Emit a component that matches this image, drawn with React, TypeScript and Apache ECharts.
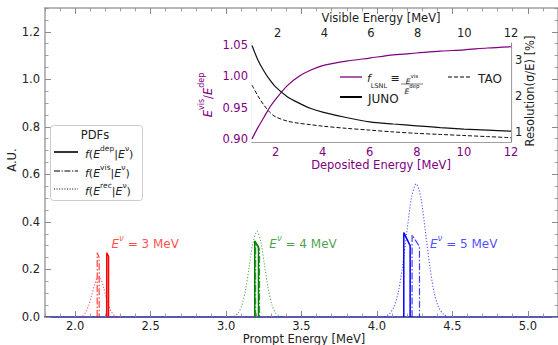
import React, { useEffect, useRef } from "react";
import * as echarts from "echarts";

// ---------- data ----------
const mainXTicks = [2.0, 2.5, 3.0, 3.5, 4.0, 4.5, 5.0];
const mainYTicks = [0, 0.2, 0.4, 0.6, 0.8, 1.0, 1.2];
const insetDepTicks = [2, 4, 6, 8, 10, 12];
const insetVisTicks = [2, 4, 6, 8, 10, 12];
const insetRatioTicks = [0.9, 0.95, 1.0, 1.05];
const insetResTicks = [1, 2, 3];

// E_nu = 3 MeV
const red_dep = [[2.209, 0], [2.209, 0.27], [2.221, 0.255], [2.221, 0]];
const red_vis = [[2.146, 0], [2.146, 0.27], [2.159, 0.25], [2.159, 0]];
const red_rec = [
  [2.03, 0], [2.05, 0.006], [2.07, 0.02], [2.09, 0.05], [2.11, 0.092], [2.13, 0.138],
  [2.15, 0.168], [2.17, 0.16], [2.19, 0.12], [2.21, 0.072], [2.23, 0.034], [2.25, 0.012],
  [2.27, 0.003], [2.29, 0],
];
// E_nu = 4 MeV
const green_dep = [[3.19, 0], [3.19, 0.32], [3.215, 0.295], [3.215, 0]];
const green_vis = [[3.196, 0], [3.196, 0.31], [3.222, 0.285], [3.222, 0]];
const green_rec = [
  [3.03, 0], [3.055, 0.004], [3.08, 0.016], [3.105, 0.05], [3.13, 0.117], [3.155, 0.218],
  [3.18, 0.318], [3.205, 0.36], [3.23, 0.318], [3.255, 0.218], [3.28, 0.117], [3.305, 0.049],
  [3.33, 0.016], [3.355, 0.004], [3.38, 0],
];
// E_nu = 5 MeV
const blue_dep = [[4.178, 0], [4.178, 0.355], [4.22, 0.3], [4.22, 0]];
const blue_vis = [[4.233, 0], [4.233, 0.345], [4.282, 0.296], [4.282, 0]];
const blue_rec = [
  [4.05, 0], [4.08, 0.012], [4.11, 0.039], [4.14, 0.1], [4.17, 0.215], [4.2, 0.366],
  [4.23, 0.505], [4.26, 0.56], [4.29, 0.505], [4.32, 0.366], [4.35, 0.215], [4.38, 0.1],
  [4.41, 0.039], [4.44, 0.012], [4.47, 0],
];

const annotX = [2.464, 3.51, 4.575];
const annotY = [0.316, 0.316, 0.316];
const annotNu = ["3", "4", "5"];

// inset
const depE = [1, 1.25, 1.5, 1.75, 2, 2.5, 3, 3.5, 4, 5, 6, 7, 8, 9, 10, 11, 12];
const lsnl = [0.9, 0.918, 0.934, 0.95, 0.963, 0.985, 1.0, 1.01, 1.017, 1.024, 1.029, 1.034, 1.037, 1.04, 1.042, 1.045, 1.047];
const junoRes = [3.4, 3.0, 2.7, 2.45, 2.25, 1.98, 1.8, 1.65, 1.55, 1.4, 1.28, 1.22, 1.17, 1.12, 1.08, 1.05, 1.02];
const taoRes = [2.3, 2.0, 1.75, 1.55, 1.42, 1.3, 1.24, 1.2, 1.16, 1.1, 1.05, 1.0, 0.96, 0.93, 0.9, 0.87, 0.84];

// ---------- helpers ----------
const FONT = "DejaVu Sans";
const SPINE = "#a0a0a0";
const TICK = "#8a8a8a";
const PURPLE = "#800080";
const FS = 11.5;

function steps(a: number, b: number, s: number) {
  const out: number[] = [];
  const n = Math.round((b - a) / s);
  for (let i = 0; i <= n; i++) out.push(Math.round((a + i * s) * 1000) / 1000);
  return out;
}

function pairs(xs: number[], ys: number[]) {
  return xs.map((x, i) => [x, ys[i]]);
}

function axisBase(extra: any) {
  return {
    type: "value",
    splitLine: { show: false },
    axisLine: { show: false, onZero: false },
    ...extra,
  };
}

function majorAxis(gridIndex: number, position: string, min: number, max: number, ticks: number[], opts: any) {
  return axisBase({
    gridIndex, position, min, max,
    axisLine: { show: true, onZero: false, lineStyle: { color: opts.lineColor || SPINE, width: opts.lineWidth || 1.5 } },
    axisTick: { show: true, inside: true, length: opts.tickLen || 6, customValues: ticks, lineStyle: { color: TICK, width: 1 } },
    axisLabel: opts.labels
      ? {
          show: true, customValues: ticks, margin: opts.margin ?? 5,
          color: opts.labelColor || "#222", fontFamily: FONT, fontSize: FS,
          formatter: (v: number) => v.toFixed(opts.digits || 0),
        }
      : { show: false },
  });
}

function minorAxis(gridIndex: number, position: string, min: number, max: number, ticks: number[], len: number) {
  return axisBase({
    gridIndex, position, min, max,
    axisTick: { show: true, inside: true, length: len, customValues: ticks, lineStyle: { color: TICK, width: 0.8 } },
    axisLabel: { show: false },
  });
}

const tokN = (size: number, color: string) => ({ fontFamily: FONT, fontSize: size, fill: color, lineHeight: size + 5, verticalAlign: "bottom" });
const tokI = (size: number, color: string) => ({ fontFamily: FONT, fontSize: size, fill: color, fontStyle: "italic", lineHeight: size + 5, verticalAlign: "bottom" });
const tokS = (size: number, color: string) => ({ fontFamily: FONT, fontSize: size, fill: color, lineHeight: size, verticalAlign: "top" });

export default function App() {
  const ref = useRef<HTMLDivElement>(null);
  useEffect(() => {
    if (!ref.current) return;
    const chart = echarts.init(ref.current, null, { renderer: "svg" });

    const mainLine = (data: number[][], color: string, kind: string) => {
      const ls: any = { color, width: 1.5, opacity: 1, type: "solid" };
      if (kind === "vis") { ls.width = 1.2; ls.opacity = 0.75; ls.type = [7, 2, 1.5, 2]; }
      if (kind === "rec") { ls.width = 1.1; ls.opacity = 0.65; ls.type = [1.2, 1.8]; }
      return {
        type: "line", xAxisIndex: 0, yAxisIndex: 0, data, symbol: "none",
        smooth: kind === "rec" ? 0.3 : false, lineStyle: ls, z: 3, silent: true,
      };
    };

    const annotColors = ["#ff2020", "#1a8a1a", "#2020ff"];
    const annotSeries = annotX.map((x, i) => ({
      type: "scatter", xAxisIndex: 0, yAxisIndex: 0, symbolSize: 0,
      data: [[x, annotY[i]]], silent: true,
      label: {
        show: true, position: "inside",
        formatter: `{i|E}{s|ν}{n| = ${annotNu[i]} MeV}`,
        rich: {
          i: { fontFamily: FONT, fontSize: 12, color: annotColors[i], fontStyle: "italic", lineHeight: 17, verticalAlign: "bottom" },
          s: { fontFamily: FONT, fontSize: 8.5, color: annotColors[i], fontStyle: "italic", lineHeight: 9, verticalAlign: "top" },
          n: { fontFamily: FONT, fontSize: 12, color: annotColors[i], lineHeight: 17, verticalAlign: "bottom" },
        },
      },
    }));

    const legendRich = {
      n: tokN(11, "#222"), i: tokI(11, "#222"), s: tokS(7.5, "#222"),
    };
    const legendRows = [
      { y: 152, dash: null as any, label: "{i|f}{n|(}{i|E}{s|dep}{n||}{i|E}{s|ν}{n|)}" },
      { y: 171, dash: [6, 1.6, 1.2, 1.6], label: "{i|f}{n|(}{i|E}{s|vis}{n||}{i|E}{s|ν}{n|)}" },
      { y: 189, dash: [1, 1.6], label: "{i|f}{n|(}{i|E}{s|rec}{n||}{i|E}{s|ν}{n|)}" },
    ];

    const graphics: any[] = [
      // main legend
      { type: "rect", z: 100, shape: { x: 50.5, y: 125.5, width: 92, height: 75, r: 3 }, style: { fill: "rgba(255,255,255,0.85)", stroke: "#cccccc", lineWidth: 1 } },
      { type: "text", z: 101, x: 95, y: 135, style: { text: "PDFs", fontFamily: FONT, fontSize: FS, fill: "#222", align: "center", verticalAlign: "middle" } },
      ...legendRows.flatMap((r) => [
        { type: "line", z: 101, shape: { x1: 54, y1: r.y, x2: 78, y2: r.y }, style: { stroke: "#000", lineWidth: r.dash ? 1.2 : 1.6, lineDash: r.dash || undefined } },
        { type: "text", z: 101, x: 85, y: r.y, style: { text: r.label, rich: legendRich, align: "left", verticalAlign: "middle" } },
      ]),
      // main axis names
      { type: "text", x: 304, y: 339, style: { text: "Prompt Energy [MeV]", fontFamily: FONT, fontSize: FS, fill: "#222", align: "center", verticalAlign: "middle" } },
      { type: "text", x: 12, y: 160, rotation: Math.PI / 2, style: { text: "A.U.", fontFamily: FONT, fontSize: FS, fill: "#222", align: "center", verticalAlign: "middle" } },
      // inset axis names
      { type: "text", z: 50, x: 381, y: 165, style: { text: "Deposited Energy [MeV]", fontFamily: FONT, fontSize: FS, fill: PURPLE, align: "center", verticalAlign: "middle" } },
      { type: "text", z: 50, x: 381, y: 18, style: { text: "Visible Energy [MeV]", fontFamily: FONT, fontSize: FS, fill: "#222", align: "center", verticalAlign: "middle" } },
      { type: "text", z: 50, x: 530, y: 91, rotation: Math.PI / 2, style: { text: "Resolution(σ/E) [%]", fontFamily: FONT, fontSize: FS, fill: "#222", align: "center", verticalAlign: "middle" } },
      {
        type: "text", z: 50, x: 206, y: 95, rotation: Math.PI / 2,
        style: {
          text: "{i|E}{s|vis}{n|/}{i|E}{s|dep}", align: "center", verticalAlign: "middle",
          rich: { n: tokN(FS, PURPLE), i: tokI(FS, PURPLE), s: tokS(8, PURPLE) },
        },
      },
      // inset legend
      { type: "line", z: 50, shape: { x1: 340, y1: 77, x2: 362, y2: 77 }, style: { stroke: PURPLE, lineWidth: 1.3 } },
      {
        type: "text", z: 50, x: 367, y: 81,
        style: {
          text: "{i|f}{b|LSNL}{n| ≡}", align: "left", verticalAlign: "middle",
          rich: {
            i: { fontFamily: FONT, fontSize: 11, fill: "#222", fontStyle: "italic", lineHeight: 16, verticalAlign: "top" },
            b: { fontFamily: FONT, fontSize: 6.5, fill: "#222", lineHeight: 9, verticalAlign: "bottom" },
            n: { fontFamily: FONT, fontSize: 11, fill: "#222", lineHeight: 16, verticalAlign: "top" },
          },
        },
      },
      {
        type: "text", z: 50, x: 412, y: 79,
        style: { text: "{i|E}{s|vis}", align: "center", verticalAlign: "middle", rich: { i: tokI(7.5, "#222"), s: tokS(5.5, "#222") } },
      },
      { type: "line", z: 50, shape: { x1: 401, y1: 84, x2: 423, y2: 84 }, style: { stroke: "#222", lineWidth: 0.6 } },
      {
        type: "text", z: 50, x: 412, y: 89,
        style: { text: "{i|E}{s|dep}", align: "center", verticalAlign: "middle", rich: { i: tokI(7.5, "#222"), s: tokS(5.5, "#222") } },
      },
      { type: "line", z: 50, shape: { x1: 340, y1: 97, x2: 362, y2: 97 }, style: { stroke: "#000", lineWidth: 2 } },
      { type: "text", z: 50, x: 368, y: 99, style: { text: "JUNO", fontFamily: FONT, fontSize: 12, fill: "#222", align: "left", verticalAlign: "middle" } },
      { type: "line", z: 50, shape: { x1: 448, y1: 77, x2: 470, y2: 77 }, style: { stroke: "#000", lineWidth: 1.1, lineDash: [4, 2] } },
      { type: "text", z: 50, x: 478, y: 79, style: { text: "TAO", fontFamily: FONT, fontSize: 12, fill: "#222", align: "left", verticalAlign: "middle" } },
    ];

    const option: any = {
      animation: false,
      backgroundColor: "#ffffff",
      grid: [
        { left: 45, top: 8, width: 518, height: 309, show: false },
        { left: 252, top: 43, width: 259, height: 99, show: true, backgroundColor: "#ffffff", borderWidth: 0, z: 10 },
      ],
      xAxis: [
        majorAxis(0, "bottom", 1.8, 5.2, mainXTicks, { labels: true, digits: 1, lineColor: "#22229a", margin: 3 }),
        minorAxis(0, "bottom", 1.8, 5.2, steps(1.8, 5.2, 0.1), 3.5),
        majorAxis(0, "top", 1.8, 5.2, mainXTicks, {}),
        minorAxis(0, "top", 1.8, 5.2, steps(1.8, 5.2, 0.1), 3.5),
        majorAxis(1, "bottom", 1, 12, insetDepTicks, { labels: true, labelColor: PURPLE, tickLen: 5, lineWidth: 1.2, margin: 4 }),
        minorAxis(1, "bottom", 1, 12, steps(1, 12, 0.5), 3),
        majorAxis(1, "top", 0.9, 12, insetVisTicks, { labels: true, tickLen: 5, lineWidth: 1.2, margin: 4 }),
        minorAxis(1, "top", 0.9, 12, steps(1, 12, 0.5), 3),
      ],
      yAxis: [
        majorAxis(0, "left", 0, 1.3, mainYTicks, { labels: true, digits: 1, margin: 5 }),
        minorAxis(0, "left", 0, 1.3, steps(0, 1.3, 0.05), 3.5),
        majorAxis(0, "right", 0, 1.3, mainYTicks, {}),
        minorAxis(0, "right", 0, 1.3, steps(0, 1.3, 0.05), 3.5),
        majorAxis(1, "left", 0.895, 1.053, insetRatioTicks, { labels: true, digits: 2, labelColor: PURPLE, tickLen: 5, lineWidth: 1.2, margin: 4 }),
        minorAxis(1, "left", 0.895, 1.053, steps(0.9, 1.05, 0.01), 3),
        majorAxis(1, "right", 0.72, 3.47, insetResTicks, { labels: true, tickLen: 5, lineWidth: 1.2, margin: 4 }),
        minorAxis(1, "right", 0.72, 3.47, steps(0.75, 3.25, 0.25), 3),
      ],
      series: [
        mainLine(red_rec, "#ff0000", "rec"),
        mainLine(red_vis, "#ff0000", "vis"),
        mainLine(red_dep, "#ff0000", "dep"),
        mainLine(green_rec, "#008000", "rec"),
        mainLine(green_vis, "#008000", "vis"),
        mainLine(green_dep, "#008000", "dep"),
        mainLine(blue_rec, "#0000ff", "rec"),
        mainLine(blue_vis, "#0000ff", "vis"),
        mainLine(blue_dep, "#0000ff", "dep"),
        ...annotSeries,
        {
          type: "line", xAxisIndex: 4, yAxisIndex: 4, data: pairs(depE, lsnl), symbol: "none", smooth: 0.3,
          lineStyle: { color: PURPLE, width: 1.2 }, z: 20, silent: true,
        },
        {
          type: "line", xAxisIndex: 4, yAxisIndex: 6, data: pairs(depE, junoRes), symbol: "none", smooth: 0.3,
          lineStyle: { color: "#111", width: 1.2 }, z: 20, silent: true,
        },
        {
          type: "line", xAxisIndex: 4, yAxisIndex: 6, data: pairs(depE, taoRes), symbol: "none", smooth: 0.3,
          lineStyle: { color: "#111", width: 1, type: [4, 2] }, z: 20, silent: true,
        },
      ],
      graphic: graphics,
    };
    chart.setOption(option);
    return () => chart.dispose();
  }, []);
  return <div ref={ref} style={{ position: "fixed", left: 0, top: 0, width: 558, height: 345 }} />;
}
